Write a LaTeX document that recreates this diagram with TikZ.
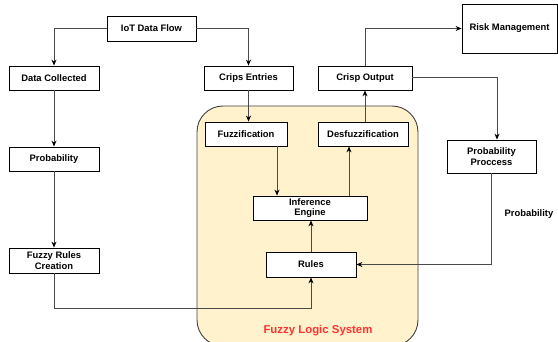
\documentclass[tikz,border=0pt]{standalone}
\usepackage{fontspec}
\setmainfont{Liberation Sans}
\usetikzlibrary{arrows.meta,calc}
\definecolor{fzfill}{HTML}{FFF2CC}
\definecolor{fzred}{HTML}{FF3333}
\definecolor{lnc}{HTML}{4A4A4A}
\begin{document}
\begin{tikzpicture}[x=1pt,y=-1pt,
  box/.style={draw=black,line width=0.8pt,fill=white,inner sep=1pt,align=center,
    font=\fontsize{9.4}{10.6}\selectfont\bfseries},
  arr/.style={draw=lnc,line width=1pt,-{Stealth[length=6pt,width=5pt,color=black]}},
  lbl/.style={font=\fontsize{9.4}{10.6}\selectfont\bfseries}]
\useasboundingbox (0,0) rectangle (558,342);
% fuzzy logic region
\node[draw=black!75,line width=0.9pt,fill=fzfill,rounded corners=26pt,
  minimum width=221pt,minimum height=240pt,inner sep=0pt] (fls) at (307.5,226) {};
\node[font=\fontsize{11.4}{13}\selectfont\bfseries,text=fzred] (flst) at (318,331) {Fuzzy Logic System};
% nodes
\node[box,minimum width=89pt,minimum height=25pt] (iot) at (151.5,28.5) {IoT Data Flow};
\node[box,minimum width=90pt,minimum height=24pt] (dc) at (54,78) {Data Collected};
\node[box,minimum width=89pt,minimum height=24pt] (ce) at (248.5,78) {Crips Entries};
\node[box,minimum width=90pt,minimum height=24pt] (prob) at (54,159) {Probability};
\node[box,minimum width=90pt,minimum height=25pt] (frc) at (54,260.5) {Fuzzy Rules\\Creation};
\node[box,minimum width=82pt,minimum height=24pt] (fuzz) at (246,134) {Fuzzification};
\node[box,minimum width=90pt,minimum height=24pt] (desf) at (363,134) {Desfuzzification};
\node[box,minimum width=94pt,minimum height=24pt] (crisp) at (365,78) {Crisp Output};
\node[box,minimum width=95pt,minimum height=49pt] (risk) at (509.5,28.5) {Risk Management};
\node[box,minimum width=89pt,minimum height=33pt] (pp) at (491.5,156.5) {Probability\\Proccess};
\node[box,minimum width=114pt,minimum height=24pt] (ie) at (310,208) {Inference\\Engine};
\node[box,minimum width=90pt,minimum height=25pt] (rules) at (311,264.5) {Rules};
\node[lbl] (plbl) at (529,214) {Probability};
% connectors
\draw[arr] (iot.west) -| (dc.north);
\draw[arr] (iot.east) -| (ce.north);
\draw[arr] (dc.south) -- (prob.north);
\draw[arr] (prob.south) -- (frc.north);
\draw[arr] (ce.south) -- (ce.south |- fuzz.north);
\coordinate (fr1) at (54,309);
\draw[arr] (frc.south) -- (fr1) -| (rules.south);
\draw[arr] ([xshift=31pt]fuzz.south) -- ([xshift=31pt]fuzz.south |- ie.north);
\draw[arr] ([xshift=39pt]ie.north) -- ([xshift=39pt]ie.north |- desf.south);
\draw[arr] (rules.north) -- (rules.north |- ie.south);
\draw[arr] (crisp.south |- desf.north) -- (crisp.south);
\draw[arr] (crisp.north) |- (risk.west);
\draw[arr] (crisp.east) -| ([xshift=5.5pt]pp.north);
\draw[arr] (pp.south) |- (rules.east);
\end{tikzpicture}
\end{document}
